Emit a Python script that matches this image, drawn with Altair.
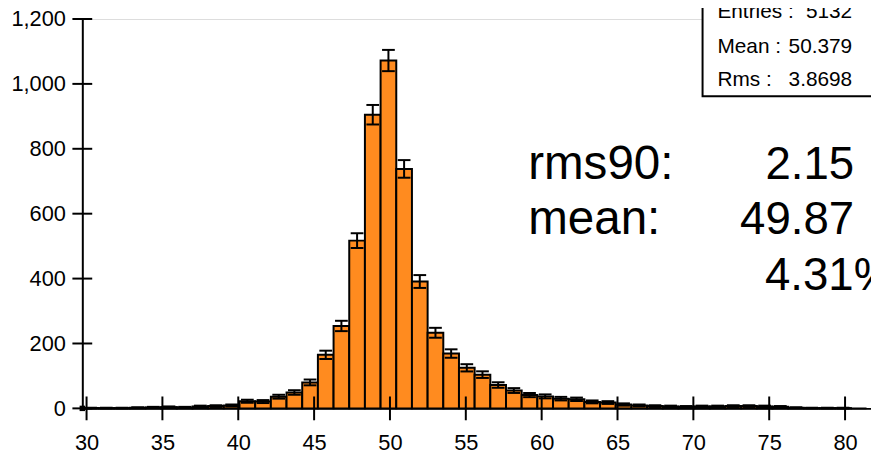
import altair as alt
import pandas as pd
import numpy as np

# ---- data ----
bin_start = 29.75
bin_width = 1.0333
counts = [1, 1, 1, 2, 3, 4, 3, 6, 7, 9,
          22, 21, 36, 49, 80, 165, 254, 517, 905, 1072,
          738, 391, 233, 169, 125, 104, 72, 55, 41, 37,
          30, 28, 20, 18, 12, 9, 7, 6, 5, 6,
          6, 7, 7, 6, 5, 2, 1, 1, 1, 0]
x_ticks = [30, 35, 40, 45, 50, 55, 60, 65, 70, 75, 80]
y_ticks = [0, 200, 400, 600, 800, 1000, 1200]
stat_names = ["Entries :", "Mean :", "Rms :"]
stat_values = ["5132", "50.379", "3.8698"]
big_names = ["rms90:", "mean:"]
big_values = ["2.15", "49.87"]
big_extra = "4.31%"

X_DOMAIN = [29.72, 81.71]
Y_DOMAIN = [0, 1200]
W, H = 796, 393
ORANGE = "#ff8b1f"
SANS = "Liberation Sans, Arial"

lo = [bin_start + i * bin_width for i in range(len(counts))]
df = pd.DataFrame({
    "lo": lo,
    "hi": [v + bin_width for v in lo],
    "mid": [v + bin_width / 2 for v in lo],
    "n": counts,
})
df["base"] = 0
df["elo"] = df["n"] - np.sqrt(df["n"])
df["ehi"] = df["n"] + np.sqrt(df["n"])
df["cl"] = df["mid"] - 0.42
df["cr"] = df["mid"] + 0.42
df_err = df[df["n"] > 0]

xs = alt.Scale(domain=X_DOMAIN, nice=False, zero=False)
ys = alt.Scale(domain=Y_DOMAIN, nice=False, zero=False)

base = alt.Chart(df)

bars = base.mark_rect(fill=ORANGE, stroke="black", strokeWidth=2).encode(
    x=alt.X("lo:Q", scale=xs, axis=alt.Axis(
        values=x_ticks, ticks=False, grid=False, domainColor="black", domainWidth=2,
        labelFont=SANS, labelFontSize=22, labelColor="black", labelPadding=25,
        labelFlush=False, title=None)),
    x2="hi:Q",
    y=alt.Y("n:Q", scale=ys, axis=alt.Axis(
        values=y_ticks, ticks=False, grid=False, domainColor="black", domainWidth=2,
        labelFont=SANS, labelFontSize=22, labelColor="black", labelPadding=17,
        format=",.0f", labelFlush=False, title=None)),
    y2="base:Q",
)

err_v = alt.Chart(df_err).mark_rule(color="black", strokeWidth=2).encode(
    x=alt.X("mid:Q", scale=xs), y=alt.Y("elo:Q", scale=ys), y2="ehi:Q")
cap_hi = alt.Chart(df_err).mark_rule(color="black", strokeWidth=2).encode(
    x=alt.X("cl:Q", scale=xs), x2="cr:Q", y=alt.Y("ehi:Q", scale=ys))
cap_lo = alt.Chart(df_err).mark_rule(color="black", strokeWidth=2).encode(
    x=alt.X("cl:Q", scale=xs), x2="cr:Q", y=alt.Y("elo:Q", scale=ys))

xt = alt.Chart(pd.DataFrame({"v": x_ticks})).mark_rule(color="black", strokeWidth=2).encode(
    x=alt.X("v:Q", scale=xs), y=alt.value(H - 12), y2=alt.value(H + 12))
yt = alt.Chart(pd.DataFrame({"v": y_ticks})).mark_rule(color="black", strokeWidth=2).encode(
    y=alt.Y("v:Q", scale=ys), x=alt.value(-10), x2=alt.value(10))

origin = alt.Chart(pd.DataFrame({"x": [X_DOMAIN[0]], "y": [0]})).mark_square(
    color="black", size=30, opacity=1).encode(
    x=alt.X("x:Q", scale=xs), y=alt.Y("y:Q", scale=ys))

# stats box
box = alt.Chart(pd.DataFrame({"a": [0]})).mark_rect(
    fill="white", stroke="black", strokeWidth=2).encode(
    x=alt.value(626), x2=alt.value(W + 40), y=alt.value(-40), y2=alt.value(78))
stat_df = pd.DataFrame({"name": stat_names, "val": stat_values,
                        "yy": [-1, 34, 68]})
stat_n = alt.Chart(stat_df).mark_text(
    font=SANS, fontSize=21, align="left", baseline="alphabetic", color="black").encode(
    x=alt.value(641), y=alt.Y("yy:Q", scale=None), text="name:N")
stat_v = alt.Chart(stat_df).mark_text(
    font=SANS, fontSize=21, align="right", baseline="alphabetic", color="black").encode(
    x=alt.value(777), y=alt.Y("yy:Q", scale=None), text="val:N")

big_df = pd.DataFrame({"name": big_names, "val": big_values, "yy": [161, 217]})
big_n = alt.Chart(big_df).mark_text(
    font=SANS, fontSize=48, align="left", baseline="alphabetic", color="black").encode(
    x=alt.value(450), y=alt.Y("yy:Q", scale=None), text="name:N")
big_v = alt.Chart(big_df).mark_text(
    font=SANS, fontSize=46, align="right", baseline="alphabetic", color="black").encode(
    x=alt.value(779), y=alt.Y("yy:Q", scale=None), text="val:N")
big_x = alt.Chart(pd.DataFrame({"t": [big_extra]})).mark_text(
    font=SANS, fontSize=46, align="left", baseline="alphabetic", color="black").encode(
    x=alt.value(689), y=alt.value(274), text="t:N")

chart = alt.layer(
    bars, err_v, cap_hi, cap_lo, xt, yt, origin, box, stat_n, stat_v, big_n, big_v, big_x
).properties(
    width=W, height=H,
    autosize=alt.AutoSizeParams(type="none"),
    padding={"left": 75, "top": 9, "right": 0, "bottom": 50},
).configure_view(stroke=None).configure(background="white")

chart.save("out.html", embed_options={"renderer": "svg", "actions": False})
